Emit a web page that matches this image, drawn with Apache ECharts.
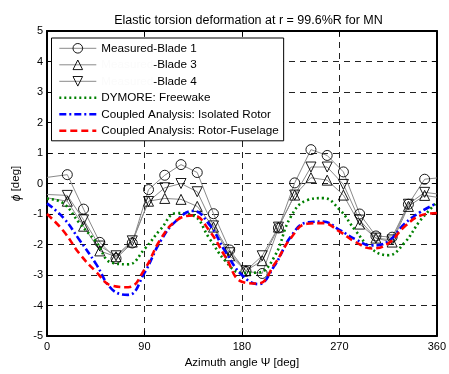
<!DOCTYPE html>
<html>
<head>
<meta charset="utf-8">
<script src="https://cdn.jsdelivr.net/npm/echarts@6/dist/echarts.min.js"></script>
<style>
  html, body { margin: 0; padding: 0; background: #fff; }
  #chart { width: 449px; height: 374px; }
</style>
</head>
<body>
<div id="chart"></div>
<script>
// Measured azimuth stations (deg); the first and last entries are the 0/360 edges of the lines
const measuredAzimuth = [0, 18.75, 33.75, 48.75, 63.75, 78.75, 93.75, 108.75, 123.75, 138.75,
  153.75, 168.75, 183.75, 198.75, 213.75, 228.75, 243.75, 258.75, 273.75, 288.75,
  303.75, 318.75, 333.75, 348.75, 360];

const blade1 = [0.2, 0.29, -0.84, -1.93, -2.46, -1.95, -0.2, 0.27, 0.62, 0.36,
  -0.99, -2.18, -2.88, -2.95, -1.46, 0.02, 1.11, 0.92, 0.38, -1.0,
  -1.72, -1.76, -0.68, 0.14, 0.18];
const blade3 = [-0.47, -0.58, -1.4, -2.21, -2.4, -1.92, -0.58, -0.49, -0.52, -0.75,
  -1.43, -2.37, -2.86, -2.53, -1.43, -0.38, 0.19, 0.11, -0.38, -1.33,
  -1.79, -1.92, -0.75, -0.39, -0.45];
const blade4 = [-0.36, -0.39, -1.19, -2.05, -2.37, -1.88, -0.59, -0.14, 0.0, -0.27,
  -1.39, -2.27, -2.86, -2.37, -1.43, -0.38, 0.54, 0.54, -0.03, -1.2,
  -1.79, -1.85, -0.68, -0.29, -0.34];

// Analysis azimuth stations (deg)
const analysisAzimuth = [0, 15, 30, 45, 60, 75, 90, 105, 120, 135, 150, 165, 180,
  195, 210, 225, 240, 255, 270, 285, 300, 315, 330, 345, 360];

const dymoreFreewake = [-0.5, -0.65, -1.3, -1.9, -2.6, -2.65, -2.15, -1.5, -0.97, -1.05, -1.8, -2.55, -2.93,
  -2.92, -2.4, -1.1, -0.55, -0.48, -0.85, -1.55, -2.15, -2.35, -1.95, -1.2, -0.62];
const isolatedRotor = [-0.65, -1.12, -1.85, -2.62, -3.47, -3.65, -2.93, -1.88, -1.2, -0.9, -1.35, -2.25, -3.0,
  -3.3, -2.7, -1.75, -1.28, -1.25, -1.52, -1.83, -2.03, -1.9, -1.33, -0.93, -0.65];
const rotorFuselage = [-1.0, -1.55, -2.3, -2.88, -3.35, -3.4, -2.82, -1.82, -1.2, -1.05, -1.55, -2.42, -3.22,
  -3.28, -2.65, -1.8, -1.32, -1.3, -1.57, -1.92, -2.13, -1.97, -1.42, -1.05, -0.97];

const xTicks = [0, 90, 180, 270, 360];
const yTicks = [-5, -4, -3, -2, -1, 0, 1, 2, 3, 4, 5];

const FONT = "'Liberation Sans', Arial, sans-serif";

function pairs(xs, ys, edgeNoSymbol) {
  return xs.map((x, i) => {
    const item = { value: [x, ys[i]] };
    if (edgeNoSymbol && (i === 0 || i === xs.length - 1)) item.symbol = 'none';
    return item;
  });
}

function measuredSeries(name, values, symbol, rotate) {
  return {
    name: name,
    type: 'line',
    data: pairs(measuredAzimuth, values, true),
    symbol: symbol,
    symbolSize: 10,
    symbolRotate: rotate,
    showAllSymbol: true,
    clip: true,
    lineStyle: { color: '#8a8a8a', width: 1 },
    itemStyle: { color: 'rgba(0,0,0,0)', borderColor: '#000', borderWidth: 0.9 },
    emphasis: { disabled: true },
    z: 3
  };
}

function curveSeries(name, values, color, dash) {
  return {
    name: name,
    type: 'line',
    data: pairs(analysisAzimuth, values, false),
    symbol: 'none',
    smooth: 0.45,
    clip: true,
    lineStyle: { color: color, width: 2.6, type: dash, cap: 'butt' },
    itemStyle: { color: 'rgba(0,0,0,0)', borderWidth: 0 },
    emphasis: { disabled: true },
    z: 4
  };
}

const chart = echarts.init(document.getElementById('chart'), null, { renderer: 'canvas' });

const gridLine = { show: true, lineStyle: { color: '#222', width: 1, type: [6, 5] } };
const frameLine = { show: true, onZero: false, lineStyle: { color: '#000', width: 2 } };
const innerTick = { show: true, inside: true, length: 5, lineStyle: { color: '#000', width: 1 } };

const measuredLegend = (name) => ({
  name: name,
  itemStyle: { color: 'rgba(0,0,0,0)', borderColor: '#000', borderWidth: 0.9 },
  lineStyle: { color: '#8a8a8a', width: 1 }
});
const curveLegend = (name) => ({
  name: name,
  itemStyle: { opacity: 0 },
  lineStyle: { width: 2.6 }
});

chart.setOption({
  animation: false,
  backgroundColor: '#fff',
  textStyle: { fontFamily: FONT },
  title: {
    text: 'Elastic torsion deformation at r = 99.6%R for MN',
    left: 243.5,
    textAlign: 'center',
    top: 9,
    textStyle: { fontFamily: FONT, fontSize: 12.5, fontWeight: 'normal', color: '#000' }
  },
  grid: { left: 47, right: 9, top: 31, bottom: 35, containLabel: false },
  xAxis: [{
    type: 'value', min: 0, max: 360, interval: 90,
    name: 'Azimuth angle \u03A8 [deg]', nameLocation: 'middle', nameGap: 21,
    nameTextStyle: { fontFamily: FONT, fontSize: 11.5, color: '#000' },
    axisLine: frameLine,
    axisTick: innerTick,
    axisLabel: { fontFamily: FONT, fontSize: 11, color: '#000', margin: 5 },
    splitLine: gridLine
  }, {
    type: 'value', min: 0, max: 360, interval: 90, position: 'top',
    axisLine: frameLine, axisTick: innerTick,
    axisLabel: { show: false }, splitLine: { show: false }
  }],
  yAxis: [{
    type: 'value', min: -5, max: 5, interval: 1,
    name: '{i|\u03D5} [deg]', nameLocation: 'middle', nameGap: 24, nameRotate: 90,
    nameTextStyle: { fontFamily: FONT, fontSize: 11.5, color: '#000',
      rich: { i: { fontFamily: FONT, fontSize: 12, fontStyle: 'italic', color: '#000' } } },
    axisLine: frameLine,
    axisTick: innerTick,
    axisLabel: { fontFamily: FONT, fontSize: 11, color: '#000', margin: 4 },
    splitLine: gridLine
  }, {
    type: 'value', min: -5, max: 5, interval: 1, position: 'right',
    axisLine: frameLine, axisTick: innerTick,
    axisLabel: { show: false }, splitLine: { show: false }
  }],
  legend: {
    orient: 'vertical',
    left: 51.5, top: 38,
    padding: [4.3, 5, 4, 6.5],
    itemWidth: 37, itemHeight: 12, itemGap: 4.5,
    backgroundColor: '#fff',
    borderColor: '#000', borderWidth: 1,
    selectedMode: false,
    textStyle: {
      fontFamily: FONT, fontSize: 11.7, color: '#000',
      rich: { ghost: { fontFamily: FONT, fontSize: 11.7, color: '#fbfbfb' } }
    },
    formatter: function (name) {
      if (name === 'Measured-Blade 3' || name === 'Measured-Blade 4') {
        return '{ghost|Measured}' + name.slice(8);
      }
      return name;
    },
    data: [
      measuredLegend('Measured-Blade 1'),
      measuredLegend('Measured-Blade 3'),
      measuredLegend('Measured-Blade 4'),
      curveLegend('DYMORE: Freewake'),
      curveLegend('Coupled Analysis: Isolated Rotor'),
      curveLegend('Coupled Analysis: Rotor-Fuselage')
    ],
    z: 10
  },
  series: [
    measuredSeries('Measured-Blade 1', blade1, 'circle', 0),
    measuredSeries('Measured-Blade 3', blade3, 'triangle', 0),
    measuredSeries('Measured-Blade 4', blade4, 'triangle', 180),
    curveSeries('DYMORE: Freewake', dymoreFreewake, '#008000', [2, 3]),
    curveSeries('Coupled Analysis: Isolated Rotor', isolatedRotor, '#0000ff', [7, 3, 2, 3]),
    curveSeries('Coupled Analysis: Rotor-Fuselage', rotorFuselage, '#ff0000', [7, 4])
  ]
});
</script>
</body>
</html>
